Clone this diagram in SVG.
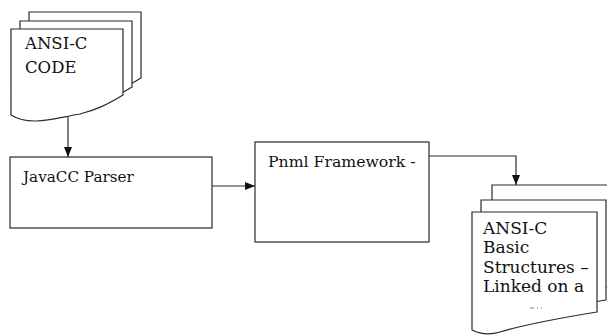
<svg xmlns="http://www.w3.org/2000/svg" width="607" height="335" viewBox="0 0 607 335">
<style>
.page{fill:#fff;stroke:#2a2a2a;stroke-width:1.2}
.box{fill:#fff;stroke:#2a2a2a;stroke-width:1.2}
.lbl{fill:#111;font-family:"DejaVu Serif",serif}
.conn{fill:none;stroke:#2a2a2a;stroke-width:1.2}
</style>
<defs>
<marker id="ah" markerUnits="userSpaceOnUse" markerWidth="10" markerHeight="10" viewBox="0 0 10 10" refX="10" refY="5" orient="auto">
<path d="M0,1 L10,5 L0,9 Z" fill="#111"/>
</marker>
<path id="docTL" d="M11,29 H123 V95 C105,106 95,110 80,114 C55,118 30,127 11,115 Z"/>
<path id="docBR" d="M472,212 H597 V312 C560,318 520,326 500,332 C490,335 480,334 472,330 Z"/>
</defs>
<rect width="607" height="335" fill="#fff"/>
<g id="connectors">
<line class="conn" x1="68" y1="117" x2="68" y2="157" marker-end="url(#ah)"/>
<line class="conn" x1="212" y1="186" x2="255" y2="186" marker-end="url(#ah)"/>
<polyline class="conn" points="429,156 516,156 516,185" marker-end="url(#ah)"/>
</g>
<g id="ansi-c-code">
<use href="#docTL" class="page" transform="translate(18,-17)"/>
<use href="#docTL" class="page" transform="translate(9,-8)"/>
<use href="#docTL" class="page"/>
<text class="lbl" font-size="16.5" x="25" y="49">ANSI-C</text>
<text class="lbl" font-size="16.5" x="25" y="73">CODE</text>
</g>
<g id="javacc-parser">
<rect class="box" x="10" y="157" width="202" height="71"/>
<text class="lbl" font-size="15.2" x="23" y="182">JavaCC Parser</text>
</g>
<g id="pnml-framework">
<rect class="box" x="255" y="142" width="174" height="100"/>
<text class="lbl" font-size="15.7" x="268" y="167">Pnml Framework -</text>
</g>
<g id="ansi-c-basic-structures">
<use href="#docBR" class="page" transform="translate(20,-27)"/>
<use href="#docBR" class="page" transform="translate(9,-12)"/>
<use href="#docBR" class="page"/>
<text class="lbl" font-size="17" x="483" y="233.5">ANSI-C</text>
<text class="lbl" font-size="17" x="483" y="253">Basic</text>
<text class="lbl" font-size="17" x="483" y="272.5">Structures –</text>
<text class="lbl" font-size="17" x="483" y="292">Linked on a</text>
<path d="M530,308 H534 M537,308 H538 M541,308 H542" stroke="#777" stroke-width="1"/>
</g>
</svg>
